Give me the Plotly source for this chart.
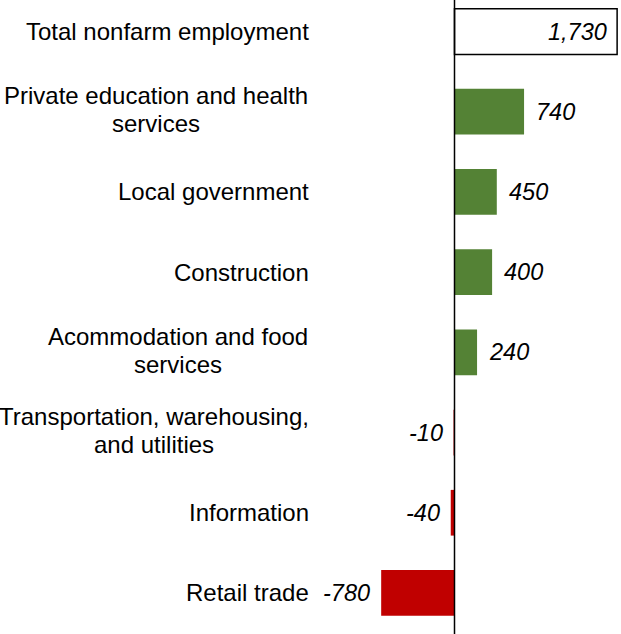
import plotly.graph_objects as go

categories = [
    "Total nonfarm employment",
    "Private education and health services",
    "Local government",
    "Construction",
    "Acommodation and food services",
    "Transportation, warehousing, and utilities",
    "Information",
    "Retail trade",
]
label_lines = [
    ["Total nonfarm employment"],
    ["Private education and health", "services"],
    ["Local government"],
    ["Construction"],
    ["Acommodation and food", "services"],
    ["Transportation, warehousing,", "and utilities"],
    ["Information"],
    ["Retail trade"],
]
values = [1730, 740, 450, 400, 240, -10, -40, -780]
value_labels = ["1,730", "740", "450", "400", "240", "-10", "-40", "-780"]

W, H = 621, 634
GREEN = "#548235"
RED = "#C00000"

fill = []
line_col = []
line_w = []
for i, v in enumerate(values):
    if i == 0:
        fill.append("white"); line_col.append("black"); line_w.append(1.5)
    elif v >= 0:
        fill.append(GREEN); line_col.append(GREEN); line_w.append(0)
    else:
        fill.append(RED); line_col.append(RED); line_w.append(0)

fig = go.Figure()
fig.add_trace(go.Bar(
    y=categories, x=values, orientation="h", width=0.57,
    marker=dict(color=fill, line=dict(color=line_col, width=line_w)),
    hoverinfo="skip",
))

font = dict(family="Liberation Sans, Arial, sans-serif", size=24, color="black")
ifont = dict(family="Liberation Sans, Arial, sans-serif", size=23.5, color="black")

# category labels
centers_two = {1: 156, 4: 177.5, 5: 153.5}
for i, lines in enumerate(label_lines):
    if len(lines) == 1:
        fig.add_annotation(x=310 / W, xref="paper", y=categories[i], yref="y",
                           text=lines[0], showarrow=False, xanchor="right",
                           yanchor="middle", font=font, borderpad=0)
    else:
        cx = centers_two[i] / W
        for k, ln in enumerate(lines):
            fig.add_annotation(x=cx, xref="paper", y=categories[i], yref="y",
                               text=ln, showarrow=False, xanchor="center",
                               yanchor="middle", yshift=16 if k == 0 else -12,
                               font=font, borderpad=0)

# value labels
for i, (v, t) in enumerate(zip(values, value_labels)):
    if i == 0:
        fig.add_annotation(x=v, y=categories[i], text="<i>%s</i>" % t, showarrow=False,
                           xanchor="right", xshift=-8, font=ifont)
    elif v >= 0:
        fig.add_annotation(x=v, y=categories[i], text="<i>%s</i>" % t, showarrow=False,
                           xanchor="left", xshift=10, font=ifont)
    else:
        fig.add_annotation(x=v, y=categories[i], text="<i>%s</i>" % t, showarrow=False,
                           xanchor="right", xshift=-9, font=ifont)

scale = 0.094  # px per unit
zero_px = 454.5
xmin = -zero_px / scale
xmax = (W - zero_px) / scale

fig.add_shape(type="line", x0=0, x1=0, xref="x", y0=0, y1=1, yref="paper",
              line=dict(color="black", width=1.5), layer="above")

fig.update_layout(
    width=W, height=H,
    margin=dict(l=0, r=0, t=0, b=0),
    paper_bgcolor="white", plot_bgcolor="white",
    showlegend=False,
    xaxis=dict(range=[xmin, xmax], visible=False, fixedrange=True),
    yaxis=dict(categoryorder="array", categoryarray=categories,
               range=[7.512, -0.393], autorange=False, visible=False,
               fixedrange=True),
)

fig.write_html("out.html", config={"displayModeBar": False, "staticPlot": True},
               post_script="document.body.style.margin='0';document.body.style.overflow='hidden';")
